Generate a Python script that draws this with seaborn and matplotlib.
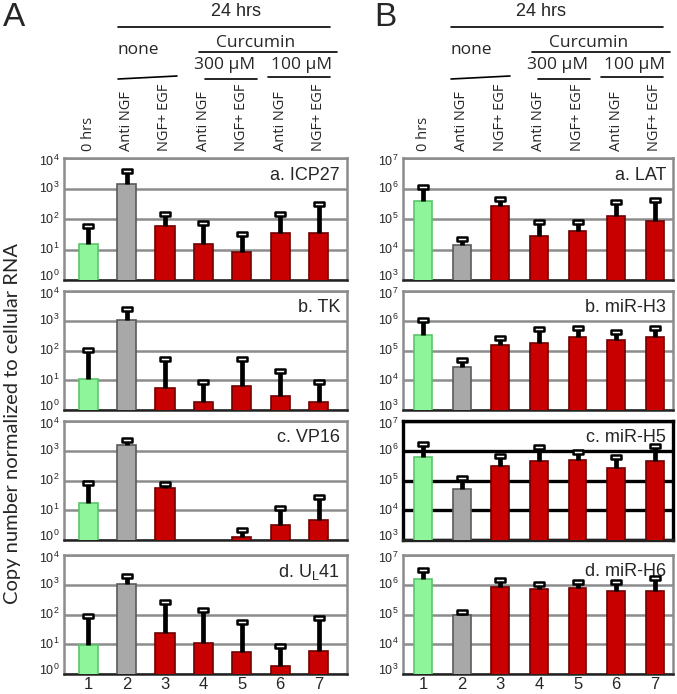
import numpy as np
import seaborn as sns
import matplotlib.pyplot as plt
from matplotlib.lines import Line2D
from matplotlib.path import Path
from matplotlib.ticker import NullLocator

# bar categories (left to right)
conditions = ["0 hrs", "Anti NGF", "NGF+ EGF", "Anti NGF", "NGF+ EGF", "Anti NGF", "NGF+ EGF"]
lanes = ["1", "2", "3", "4", "5", "6", "7"]
bar_colors = ["#8ef59b", "#a8a8a8", "#c80000", "#c80000", "#c80000", "#c80000", "#c80000"]
edge_colors = ["#5cc46a", "#5a5a5a", "#700000", "#700000", "#700000", "#700000", "#700000"]

# panel A (lytic genes): bar value and top of error bar
icp27 = [15, 1400, 60, 15, 8, 35, 35]
icp27_top = [60, 3700, 150, 75, 32, 150, 320]
tk = [11, 1100, 5.5, 1.9, 6.3, 3, 1.9]
tk_top = [105, 2500, 53, 8.5, 53, 21, 9]
vp16 = [18, 1600, 55, np.nan, 1.3, 3.1, 4.8]
vp16_top = [80, 2300, 78, np.nan, 2.1, 12, 28]
ul41 = [9.5, 1050, 24, 11, 5.6, 1.9, 6]
ul41_top = [90, 1900, 260, 140, 56, 9, 75]

# panel B (LAT and miRNAs)
lat = [4e5, 1.4e4, 2.6e5, 2.7e4, 3.9e4, 1.3e5, 8.8e4]
lat_top = [1.1e6, 2.2e4, 4.6e5, 8e4, 7.8e4, 3.5e5, 4.2e5]
mir_h3 = [3.3e5, 2.8e4, 1.5e5, 1.8e5, 2.8e5, 2.3e5, 2.8e5]
mir_h3_top = [1.05e6, 4.8e4, 2.6e5, 5.2e5, 5.9e5, 4.3e5, 5.5e5]
mir_h5 = [6e5, 5.1e4, 3.1e5, 4.4e5, 4.9e5, 2.7e5, 4.4e5]
mir_h5_top = [1.7e6, 1.26e5, 6.8e5, 1.3e6, 8.8e5, 6e5, 1.4e6]
mir_h6 = [1.6e6, 1e5, 8.4e5, 7.3e5, 7.7e5, 6.2e5, 6.2e5]
mir_h6_top = [3.2e6, 1.17e5, 1.4e6, 1.07e6, 1.2e6, 1.2e6, 1.65e6]

panels_a = [("a. ICP27", icp27, icp27_top), ("b. TK", tk, tk_top),
            ("c. VP16", vp16, vp16_top), ("d. U$_\\mathregular{L}$41", ul41, ul41_top)]
panels_b = [("a. LAT", lat, lat_top), ("b. miR-H3", mir_h3, mir_h3_top),
            ("c. miR-H5", mir_h5, mir_h5_top), ("d. miR-H6", mir_h6, mir_h6_top)]

W, H = 677, 694
sns.set_style("white")
plt.rcParams['font.family'] = ['Liberation Sans', 'DejaVu Sans']
fig = plt.figure(figsize=(W / 100, H / 100), dpi=100)

rows = [(158, 280), (291, 410), (421, 540), (555, 674)]

# flat rectangle used as the error-bar cap
cap = Path([(-1, -0.5), (1, -0.5), (1, 0.5), (-1, 0.5), (-1, -0.5)],
           [Path.MOVETO, Path.LINETO, Path.LINETO, Path.LINETO, Path.CLOSEPOLY])


def px_axes(x0, x1, y0, y1):
    return fig.add_axes([x0 / W, 1 - y1 / H, (x1 - x0) / W, (y1 - y0) / H])


def draw_panel(ax, title, vals, tops, ylim, width, xlim, grid_color, spine_color, lw):
    cats = [str(i) for i in range(7)]
    sns.barplot(x=cats, y=vals, hue=cats, palette=bar_colors, legend=False, saturation=1,
                width=width, errorbar=None, order=cats, ax=ax, linewidth=1.2)
    for p, ec in zip(ax.patches, edge_colors):
        p.set_edgecolor(ec)
        p.set_zorder(3)
    ax.set_yscale('log')
    ax.set_ylim(*ylim)
    ax.set_xlim(*xlim)
    exps = list(range(int(round(np.log10(ylim[0]))), int(round(np.log10(ylim[1]))) + 1))
    ax.set_yticks([10.0 ** e for e in exps])
    ax.set_yticklabels([])
    ax.yaxis.set_minor_locator(NullLocator())
    # decade labels; the end ones are nudged inwards so stacked panels do not collide
    for k, e in enumerate(exps):
        dy = 2.5 if k == 0 else (-2.5 if k == len(exps) - 1 else 0)
        ax.annotate("$\\mathregular{10^{%d}}$" % e, xy=(0, 10.0 ** e),
                    xycoords=('axes fraction', 'data'), xytext=(-3, dy),
                    textcoords='offset points', ha='right', va='center', fontsize=9)
    x = np.arange(7)
    v = np.array(vals, dtype=float)
    t = np.array(tops, dtype=float)
    ax.vlines(x, v, t, color='black', lw=3.4, zorder=4)
    ax.plot(x, t, ls='none', marker=cap, ms=7, mfc='white', mec='black', mew=1.8, zorder=5)
    ax.yaxis.grid(True, color=grid_color, lw=lw, zorder=0)
    ax.set_axisbelow(True)
    ax.tick_params(axis='both', length=0, labelsize=9, pad=3)
    ax.set_xticks(x)
    ax.set_xticklabels([])
    ax.set_xlabel("")
    ax.set_ylabel("")
    for s in ax.spines.values():
        s.set_color(spine_color)
        s.set_linewidth(lw)
    ax.spines['bottom'].set_color('#222222')
    ax.text(0.975, 0.86, title, transform=ax.transAxes, ha='right', va='center', fontsize=13)


for col, panels, xpx, ylim, xlim, width in [
        ("A", panels_a, (64, 347), (1, 1e4), (-0.63, 6.74), 0.5),
        ("B", panels_b, (403, 673), (1e3, 1e7), (-0.52, 6.47), 0.46)]:
    for i, ((title, vals, tops), (y0, y1)) in enumerate(zip(panels, rows)):
        ax = px_axes(xpx[0], xpx[1], y0, y1)
        heavy = (col == "B" and i == 2)
        draw_panel(ax, title, vals, tops, ylim, width, xlim,
                   'black' if heavy else '#8c8c8c',
                   'black' if heavy else '#8c8c8c',
                   2.4 if heavy else 1.8)
        if i == 0:
            ax.tick_params(axis='x', labeltop=True, labelbottom=False, pad=5)
            ax.set_xticklabels(conditions, rotation=90, fontsize=10.5,
                               family=['Open Sans', 'DejaVu Sans'])
        if i == 3:
            ax.tick_params(axis='x', labelbottom=True, pad=2)
            ax.set_xticklabels(lanes, fontsize=12)


def ftext(x, y, s, **kw):
    fig.text(x / W, 1 - y / H, s, **kw)


def fline(x0, y0, x1, y1):
    fig.add_artist(Line2D([x0 / W, x1 / W], [1 - y0 / H, 1 - y1 / H],
                          transform=fig.transFigure, color='black', lw=1.2))


hdr = dict(ha='center', va='center', family=['Open Sans', 'DejaVu Sans'], fontsize=12.5)
for dx, letter, lx, hx in [(0, "A", 14, 236), (333, "B", 385, 541)]:
    ftext(lx, 17, letter, ha='center', va='center', fontsize=24)
    ftext(hx, 11, "24 hrs", ha='center', va='center', fontsize=13)
    fline(118 + dx, 27, 330 + dx, 27)
    ftext(138 + dx, 50, "none", **hdr)
    fline(118 + dx, 79, 177 + dx, 76)
    ftext(256 + dx, 43, "Curcumin", **hdr)
    fline(199 + dx, 52, 337 + dx, 52)
    ftext(225 + dx, 65, "300 \u00b5M", **hdr)
    ftext(302 + dx, 65, "100 \u00b5M", **hdr)
    fline(205 + dx, 79, 257 + dx, 79)
    fline(268 + dx, 77, 330 + dx, 77)

ftext(13, 423, "Copy number normalized to cellular RNA", rotation=90, ha='center', va='center',
      fontsize=14.5, family=['Lato', 'DejaVu Sans'])

fig.savefig("out.png", dpi=100)
